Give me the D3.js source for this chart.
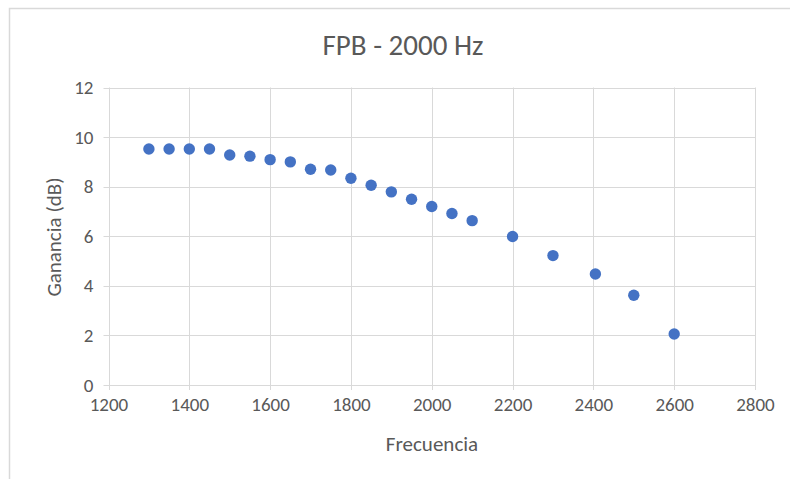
<!DOCTYPE html>
<html>
<head>
<meta charset="utf-8">
<script src="https://cdn.jsdelivr.net/npm/d3@7"></script>
<style>
  html, body { margin: 0; padding: 0; background: #fff; }
  #chart text { font-family: Carlito, "Liberation Sans Narrow", "DejaVu Sans Condensed", sans-serif; fill: #595959; }
</style>
</head>
<body>
<div id="chart"></div>
<script>
// frecuencia (Hz) y ganancia (dB)
const frecuencia = [1300, 1350, 1400, 1450, 1500, 1550, 1600, 1650, 1700, 1750, 1800, 1850, 1900, 1950, 2000, 2050, 2100, 2200, 2300, 2405, 2500, 2600];
const ganancia = [9.52, 9.52, 9.52, 9.52, 9.28, 9.23, 9.09, 9.0, 8.70, 8.67, 8.34, 8.06, 7.79, 7.49, 7.20, 6.92, 6.63, 5.99, 5.22, 4.48, 3.62, 2.06];
const xTicks = [1200, 1400, 1600, 1800, 2000, 2200, 2400, 2600, 2800];
const yTicks = [0, 2, 4, 6, 8, 10, 12];

const width = 790;
const height = 479;
const margin = { top: 87.5, right: 35, bottom: 94, left: 108.5 };

const svg = d3.select('#chart')
  .append('svg')
  .attr('width', width)
  .attr('height', height);

// borde del area del grafico
svg.append('path')
  .attr('d', `M9.5,${height} V8.5 H${width}`)
  .attr('fill', 'none')
  .attr('stroke', '#d9d9d9')
  .attr('stroke-width', 1.5);

const x = d3.scaleLinear()
  .domain([1200, 2800])
  .range([margin.left, width - margin.right]);

const y = d3.scaleLinear()
  .domain([0, 12])
  .range([height - margin.bottom, margin.top]);

// rejilla
svg.append('g')
  .selectAll('line.h')
  .data(yTicks)
  .enter()
  .append('line')
  .attr('x1', x(1200) - 5)
  .attr('x2', x(2800))
  .attr('y1', d => Math.round(y(d)) + 0.5)
  .attr('y2', d => Math.round(y(d)) + 0.5)
  .attr('stroke', '#d9d9d9')
  .attr('stroke-width', 1);

svg.append('g')
  .selectAll('line.v')
  .data(xTicks)
  .enter()
  .append('line')
  .attr('x1', d => Math.round(x(d)) + 0.5)
  .attr('x2', d => Math.round(x(d)) + 0.5)
  .attr('y1', y(12))
  .attr('y2', y(0) + 5)
  .attr('stroke', '#d9d9d9')
  .attr('stroke-width', 1);

// etiquetas de los ejes
const xAxis = d3.axisBottom(x).tickValues(xTicks).tickFormat(d3.format('d')).tickSize(0).tickPadding(13);
const yAxis = d3.axisLeft(y).tickValues(yTicks).tickFormat(d3.format('d')).tickSize(0).tickPadding(15);

const gx = svg.append('g')
  .attr('transform', `translate(0, ${y(0)})`)
  .call(xAxis);
const gy = svg.append('g')
  .attr('transform', `translate(${x(1200)}, 0)`)
  .call(yAxis);

[gx, gy].forEach(g => {
  g.select('.domain').remove();
  g.selectAll('text').style('font-size', '19px');
});

// puntos
svg.append('g')
  .selectAll('circle')
  .data(frecuencia)
  .enter()
  .append('circle')
  .attr('cx', d => x(d))
  .attr('cy', (d, i) => y(ganancia[i]))
  .attr('r', 5.7)
  .attr('fill', '#4472c4');

// titulos
svg.append('text')
  .attr('x', 403)
  .attr('y', 55)
  .attr('text-anchor', 'middle')
  .style('font-size', '29px')
  .text('FPB - 2000 Hz');

svg.append('text')
  .attr('x', 432)
  .attr('y', 451)
  .attr('text-anchor', 'middle')
  .style('font-size', '21px')
  .text('Frecuencia');

svg.append('text')
  .attr('transform', `translate(61, 237) rotate(-90)`)
  .attr('text-anchor', 'middle')
  .style('font-size', '21px')
  .text('Ganancia (dB)');
</script>
</body>
</html>
